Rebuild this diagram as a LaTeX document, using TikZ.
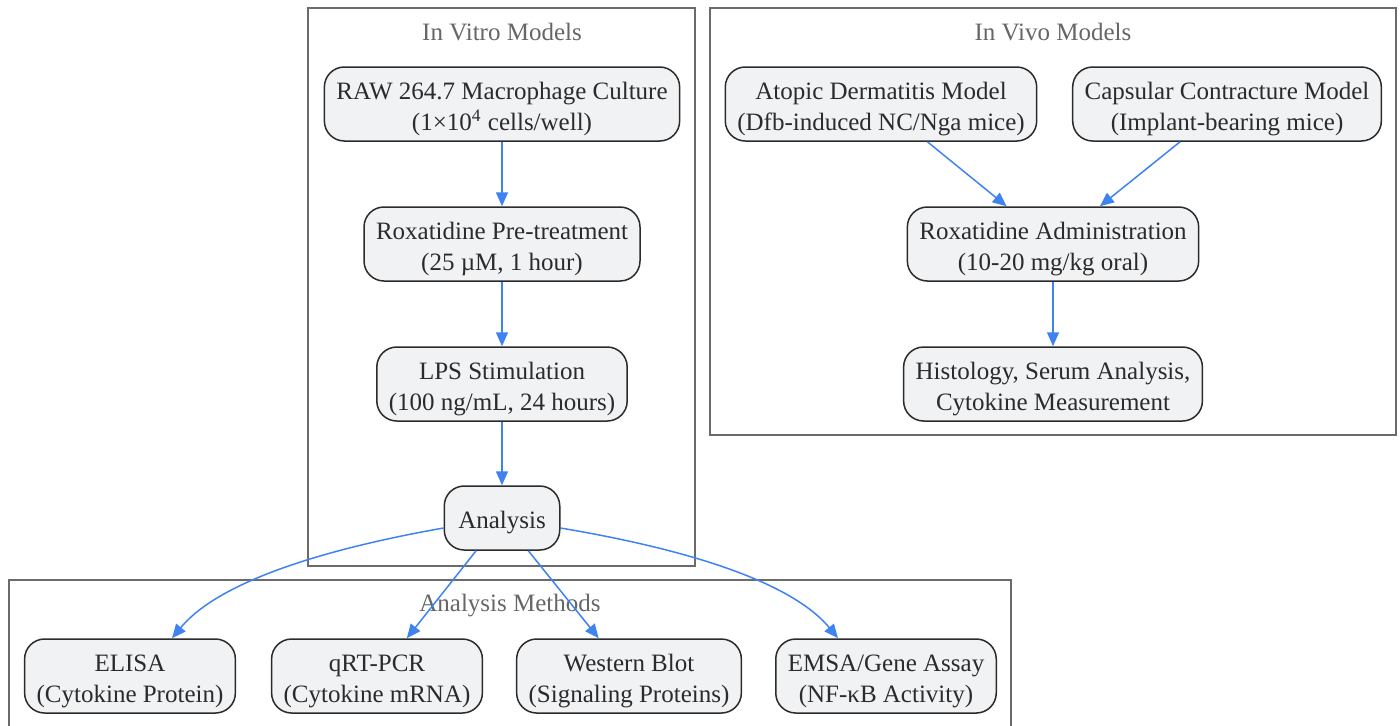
\documentclass[tikz,border=0pt]{standalone}
\usepackage{fontspec}
\setmainfont{Liberation Serif}
\usepackage{xcolor}
\usetikzlibrary{arrows.meta}

\definecolor{edgeblue}{HTML}{3F83F0}
\definecolor{boxfill}{HTML}{F1F2F4}
\definecolor{boxline}{HTML}{2B2B2B}
\definecolor{groupline}{HTML}{6B6B6B}
\definecolor{grouptext}{HTML}{666666}

\tikzset{
  stage/.style={draw=boxline, line width=0.75pt, fill=boxfill, rounded corners=10pt,
    align=center, inner xsep=6pt, inner ysep=0pt, text height=29pt, text depth=2.7pt,
    minimum height=37pt, text=boxline, font=\fontsize{12.5}{15.5}\selectfont},
  group/.style={draw=groupline, line width=0.75pt, fill=white},
  grouptitle/.style={text=grouptext, font=\fontsize{12.5}{15.5}\selectfont},
  flow/.style={draw=edgeblue, line width=0.75pt, -{Triangle[length=7pt,width=6pt]}}
}

\begin{document}
\begin{tikzpicture}[x=0.5pt,y=-0.5pt]
        \clip (0,0) rectangle (1400,725);

        % Groups
        \draw[group] (308,8) rectangle (695,566);
        \node[grouptitle] (vitrotitle) at (502,32) {In Vitro Models};
        \draw[group] (710,8) rectangle (1396,435);
        \node[grouptitle] (vivotitle) at (1053,32) {In Vivo Models};
        \draw[group] (9,580) rectangle (1011,760);
        \node[grouptitle] (methodstitle) at (510,606) {Analysis Methods};

        % In vitro steps
        \node[stage] (raw) at (502,104) {RAW 264.7 Macrophage Culture\\(1×10\textsuperscript{4} cells/well)};
        \node[stage] (pretreat) at (502,244) {Roxatidine Pre-treatment\\(25 µM, 1 hour)};
        \node[stage] (lps) at (502,384) {LPS Stimulation\\(100 ng/mL, 24 hours)};
        \node[stage, minimum height=32pt, inner xsep=7pt, text height=13.5pt] (analysis) at (502,518) {Analysis};

        % In vivo steps
        \node[stage] (atopic) at (881,104) {Atopic Dermatitis Model\\(Dfb-induced NC/Nga mice)};
        \node[stage] (capsular) at (1227,104) {Capsular Contracture Model\\(Implant-bearing mice)};
        \node[stage] (admin) at (1053,244) {Roxatidine Administration\\(10-20 mg/kg oral)};
        \node[stage] (histology) at (1053,384) {Histology, Serum Analysis,\\Cytokine Measurement};

        % Analysis methods
        \node[stage] (elisa) at (130,676) {ELISA\\(Cytokine Protein)};
        \node[stage] (qrtpcr) at (377,676) {qRT-PCR\\(Cytokine mRNA)};
        \node[stage] (western) at (629,676) {Western Blot\\(Signaling Proteins)};
        \node[stage] (emsa) at (886,676) {EMSA/Gene Assay\\(NF-κB Activity)};

        % Arrows
        \draw[flow] (raw) -- (pretreat);
        \draw[flow] (pretreat) -- (lps);
        \draw[flow] (lps) -- (analysis);
        \draw[flow] (atopic) -- (admin);
        \draw[flow] (capsular) -- (admin);
        \draw[flow] (admin) -- (histology);
        \draw[flow] ([yshift=-5pt]analysis.west) .. controls (330,548) and (220,580) .. ([xshift=21pt]elisa.north);
        \draw[flow] (analysis) -- (qrtpcr);
        \draw[flow] (analysis) -- (western);
        \draw[flow] ([yshift=-5pt]analysis.east) .. controls (680,548) and (790,580) .. ([xshift=-24pt]emsa.north);
    \end{tikzpicture}
\end{document}
